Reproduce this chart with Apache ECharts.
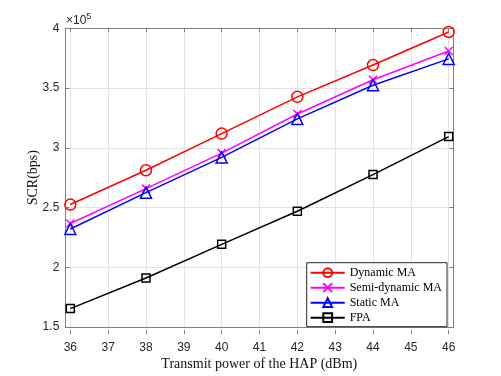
<!DOCTYPE html>
<html>
<head>
<meta charset="utf-8">
<script src="https://cdn.jsdelivr.net/npm/echarts@6/dist/echarts.min.js"></script>
<style>
html,body{margin:0;padding:0;background:#fff;}
#c{width:501px;height:376px;}
</style>
</head>
<body>
<div id="c"></div>
<script>
// Data (SCR in bps)
const xValues = [36, 38, 40, 42, 44, 46];
const dynamicMA = [256000, 284000, 314000, 344000, 370000, 397000];
const semiDynamicMA = [240500, 269000, 298000, 330000, 358000, 381500];
const staticMA = [236000, 265700, 294500, 326000, 353500, 375000];
const fpa = [171000, 196000, 223500, 250500, 280500, 311500];
const seriesNames = ['Dynamic MA', 'Semi-dynamic MA', 'Static MA', 'FPA'];
const xTickMin = 36, xTickMax = 46, xTickStep = 1;
const yTickMin = 150000, yTickMax = 400000, yTickStep = 50000;
const xLabel = 'Transmit power of the HAP (dBm)';
const yLabel = 'SCR(bps)';

const axisCol = '#808080';
const textCol = '#262626';
const gridCol = '#e3e3e3';
const sansFont = '"Liberation Sans", Arial, sans-serif';
const serifFont = '"Liberation Serif", "Times New Roman", serif';

function pairs(vals) { return xValues.map((x, i) => [x, vals[i]]); }

const chart = echarts.init(document.getElementById('c'), null, {renderer: 'canvas'});

const gridA = {left: 65.3, right: 47.7, top: 28.3, bottom: 41.7, containLabel: false};
const gridB = {left: 70.3, right: 52.3, top: 28.3, bottom: 41.7, containLabel: false};

function mk(name, data, color, symbol, size) {
  return {
    name: name, type: 'line', xAxisIndex: 2, yAxisIndex: 2,
    data: pairs(data),
    symbol: symbol, symbolSize: size,
    showAllSymbol: true,
    lineStyle: {color: color, width: 1.5},
    itemStyle: {color: 'rgba(0,0,0,0)', borderColor: color, borderWidth: 1.5},
    emphasis: {disabled: true},
    z: 5
  };
}

const option = {
  animation: false,
  backgroundColor: '#fff',
  grid: [gridA, gridB],
  graphic: [{
    type: 'text', left: 66, top: 12,
    style: {
      text: '×10{s|5}',
      font: '12px ' + sansFont,
      fill: textCol,
      rich: {s: {fontSize: 9, fontFamily: sansFont, verticalAlign: 'top', padding: [0, 0, 8, 0], fill: textCol}}
    }
  }],
  xAxis: [
    { // grid A bottom frame + name
      gridIndex: 0, type: 'value', min: 0, max: 1, position: 'bottom',
      axisLine: {show: true, lineStyle: {color: axisCol, width: 1}},
      axisTick: {show: false}, axisLabel: {show: false}, splitLine: {show: false},
      name: xLabel, nameLocation: 'middle', nameGap: 30, nameMoveOverlap: false,
      nameTextStyle: {fontFamily: serifFont, fontSize: 14, color: '#111'}
    },
    { // grid A top frame
      gridIndex: 0, type: 'value', min: 0, max: 1, position: 'top',
      axisLine: {show: true, onZero: false, lineStyle: {color: axisCol, width: 1}},
      axisTick: {show: false}, axisLabel: {show: false}, splitLine: {show: false}
    },
    { // grid B data x axis
      gridIndex: 1, type: 'value', min: xTickMin, max: xTickMax, interval: xTickStep, position: 'bottom',
      axisLine: {show: false},
      axisTick: {show: true, inside: true, length: 4, lineStyle: {color: axisCol}},
      axisLabel: {show: true, margin: 7, fontFamily: sansFont, fontSize: 12, color: textCol},
      splitLine: {show: true, lineStyle: {color: gridCol, width: 1}}
    },
    { // grid B top ticks
      gridIndex: 1, type: 'value', min: xTickMin, max: xTickMax, interval: xTickStep, position: 'top',
      axisLine: {show: false},
      axisTick: {show: true, inside: true, length: 4, lineStyle: {color: axisCol}},
      axisLabel: {show: false}, splitLine: {show: false}
    }
  ],
  yAxis: [
    { // grid A left
      gridIndex: 0, type: 'value', min: yTickMin, max: yTickMax, interval: yTickStep, position: 'left',
      axisLine: {show: true, onZero: false, lineStyle: {color: axisCol, width: 1}},
      axisTick: {show: true, inside: true, length: 4, lineStyle: {color: axisCol}},
      axisLabel: {show: true, margin: 6, fontFamily: sansFont, fontSize: 12, color: textCol,
        formatter: v => String(+(v / 1e5).toFixed(2))},
      splitLine: {show: true, showMinLine: false, showMaxLine: false, lineStyle: {color: gridCol, width: 1}},
      name: yLabel, nameLocation: 'middle', nameGap: 25, nameRotate: 90, nameMoveOverlap: false,
      nameTextStyle: {fontFamily: serifFont, fontSize: 14, color: '#111'}
    },
    { // grid A right
      gridIndex: 0, type: 'value', min: yTickMin, max: yTickMax, interval: yTickStep, position: 'right',
      axisLine: {show: true, onZero: false, lineStyle: {color: axisCol, width: 1}},
      axisTick: {show: true, inside: true, length: 4, lineStyle: {color: axisCol}},
      axisLabel: {show: false}, splitLine: {show: false}
    },
    { // grid B data y axis (hidden)
      gridIndex: 1, type: 'value', min: yTickMin, max: yTickMax, interval: yTickStep,
      show: false
    }
  ],
  legend: {
    orient: 'vertical', left: 306.7, top: 262.7,
    data: seriesNames,
    itemWidth: 34, itemHeight: 11, itemGap: 3,
    padding: [4, 5, 3, 3],
    borderColor: '#262626', borderWidth: 1, backgroundColor: '#fff',
    textStyle: {fontFamily: serifFont, fontSize: 12, lineHeight: 11, color: '#000'},
    selectedMode: false
  },
  series: [
    mk(seriesNames[0], dynamicMA, '#ff0000', 'circle', 11),
    mk(seriesNames[1], semiDynamicMA, '#ff00ff', 'path://M0,0L10,10M10,0L0,10', 8),
    mk(seriesNames[2], staticMA, '#0000ff', 'triangle', 11),
    mk(seriesNames[3], fpa, '#000000', 'rect', 8)
  ]
};
chart.setOption(option);
</script>
</body>
</html>
